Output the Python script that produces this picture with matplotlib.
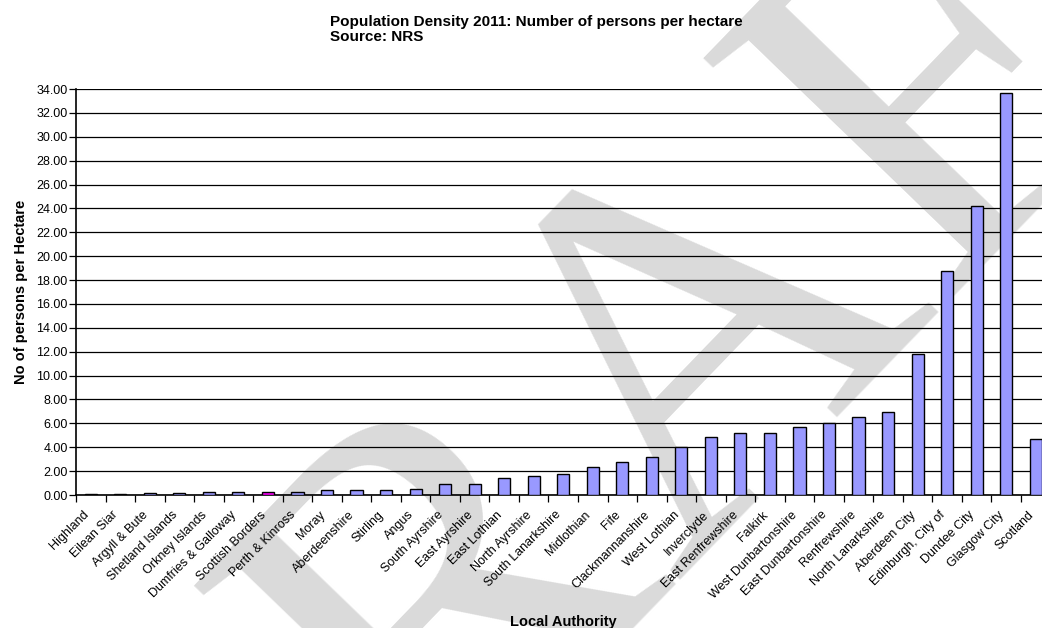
import matplotlib
matplotlib.use("Agg")
import matplotlib.pyplot as plt
import matplotlib.transforms as mtransforms
import numpy as np

categories = ["Highland", "Eilean Siar", "Argyll & Bute", "Shetland Islands", "Orkney Islands",
              "Dumfries & Galloway", "Scottish Borders", "Perth & Kinross", "Moray", "Aberdeenshire",
              "Stirling", "Angus", "South Ayrshire", "East Ayrshire", "East Lothian", "North Ayrshire",
              "South Lanarkshire", "Midlothian", "Fife", "Clackmannanshire", "West Lothian", "Inverclyde",
              "East Renfrewshire", "Falkirk", "West Dunbartonshire", "East Dunbartonshire", "Renfrewshire",
              "North Lanarkshire", "Aberdeen City", "Edinburgh, City of", "Dundee City", "Glasgow City",
              "Scotland"]
density = [0.09, 0.09, 0.13, 0.16, 0.21, 0.23, 0.24, 0.28, 0.39, 0.40, 0.41, 0.53, 0.92, 0.96,
           1.46, 1.56, 1.78, 2.34, 2.76, 3.21, 4.03, 4.87, 5.17, 5.21, 5.68, 6.03, 6.56, 6.95,
           11.82, 18.73, 24.20, 33.67, 4.70]
highlight = "Scottish Borders"
yticks = np.arange(0, 34.01, 2)

plt.rcParams['font.family'] = ['Liberation Sans', 'DejaVu Sans']

fig = plt.figure(figsize=(10.42, 6.28), dpi=100)
fig.patch.set_facecolor('white')

# DRAFT watermark (huge, mostly cropped, as on the source page)
fig.text(765/1042, 1-477/628, "DRAFT", fontsize=380, family='Liberation Serif', color='#dadada',
         rotation=46, rotation_mode='anchor', ha='center', va='baseline', zorder=0)

ax = fig.add_axes([76/1042, 1-495/628, 974.5/1042, 406/628])
ax.set_facecolor('none')
ax.set_zorder(1)

x = np.arange(len(categories))
colors = ['#ff00ff' if c == highlight else '#9999ff' for c in categories]
ax.bar(x, density, width=0.41, color=colors, edgecolor='black', linewidth=1.0, zorder=3)

ax.set_xlim(-0.5, len(categories) - 0.5)
ax.set_ylim(0, 34)
ax.set_yticks(yticks)
ax.set_yticklabels([f"{v:.2f}" for v in yticks], fontsize=9)
ax.yaxis.grid(True, color='black', linewidth=0.9, zorder=1)
ax.set_axisbelow(True)

ax.set_xticks(x)
ax.set_xticklabels(categories, rotation=45, ha='right', va='center', rotation_mode='anchor', fontsize=9)
ax.tick_params(axis='x', which='major', length=0, pad=13)
offset = mtransforms.ScaledTranslation(-4/100, 0, fig.dpi_scale_trans)
for lbl in ax.get_xticklabels():
    lbl.set_transform(lbl.get_transform() + offset)
ax.set_xticks(np.arange(-0.5, len(categories), 1), minor=True)
ax.tick_params(axis='x', which='minor', length=5, width=0.9, direction='out')
ax.tick_params(axis='y', length=5, width=0.9, direction='out', pad=1)

for s in ['top', 'right']:
    ax.spines[s].set_visible(False)
ax.spines['left'].set_linewidth(1.2)
ax.spines['bottom'].set_linewidth(1.2)

ax.set_ylabel("No of persons per Hectare", fontsize=10.5, fontweight='bold', labelpad=6)
fig.text(563/1042, 1-622/628, "Local Authority", fontsize=10.5, fontweight='bold', ha='center', va='center')

fig.text(330/1042, 1-15/628, "Population Density 2011: Number of persons per hectare\nSource: NRS",
         fontsize=11, fontweight='bold', ha='left', va='top', linespacing=1.1)

fig.savefig("out.png", dpi=100)
